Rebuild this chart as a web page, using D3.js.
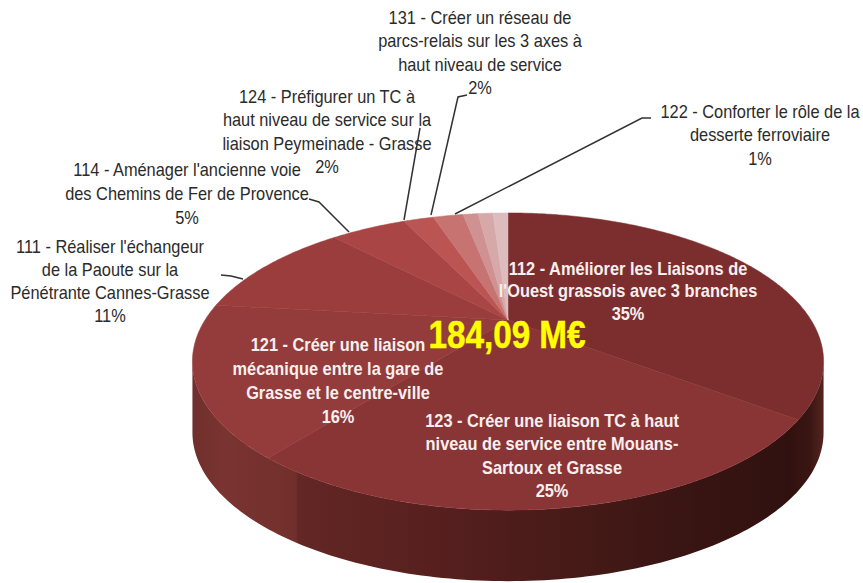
<!DOCTYPE html>
<html lang="fr">
<head>
<meta charset="utf-8">
<script src="https://cdn.jsdelivr.net/npm/d3@7"></script>
<style>
    html, body { margin: 0; padding: 0; background: #fff; }
    svg { display: block; }
    text { font-family: "Liberation Sans", sans-serif; text-anchor: middle; }
    .outer { fill: #2b2b2b; font-size: 18px; }
    .inner { fill: #f7eeee; font-size: 18px; font-weight: bold; }
    .total { fill: #ffff00; stroke: #ffff00; stroke-width: 0.5; font-size: 38px; font-weight: bold; }
    .leader { fill: none; stroke: #333; stroke-width: 1.5; }
</style>
</head>
<body>
<div id="chart"></div>
<script>
// Slice codes, clockwise from the top, the last two have no label in the picture
const codes = ['112', '123', '121', '111', '114', '124', '131', '122', 'a', 'b'];
const shares = [35, 25, 16, 11, 5, 2, 2, 1, 1, 1];
const sliceColors = ['#7b2e2e', '#8a3535', '#943a3a', '#9c3e3e', '#a94544', '#bb5452', '#c77372', '#cf9191', '#d6a8a8', '#dcbcbc'];

const totalLabel = '184,09 M€';

// Text blocks
const labelLines = [
    ['112 - Améliorer les Liaisons de', "l'Ouest grassois avec 3 branches", '35%'],
    ['123 - Créer une liaison TC à haut', 'niveau de service entre Mouans-', 'Sartoux et Grasse', '25%'],
    ['121 - Créer une liaison', 'mécanique entre la gare de', 'Grasse et le centre-ville', '16%'],
    ['111 - Réaliser l\'échangeur', 'de la Paoute sur la', 'Pénétrante Cannes-Grasse', '11%'],
    ['114 - Aménager l\'ancienne voie', 'des Chemins de Fer de Provence', '5%'],
    ['124 - Préfigurer un TC à', 'haut niveau de service sur la', 'liaison Peymeinade - Grasse', '2%'],
    ['131 - Créer un réseau de', 'parcs-relais sur les 3 axes à', 'haut niveau de service', '2%'],
    ['122 - Conforter le rôle de la', 'desserte ferroviaire', '1%']
];

// Where each block sits: centre x, first baseline, line step, white or not
const labelPlaces = [
    { x: 628, y: 275, step: 22.5, cls: 'inner' },
    { x: 552, y: 427, step: 23.5, cls: 'inner' },
    { x: 338, y: 351, step: 24, cls: 'inner' },
    { x: 110, y: 253, step: 23, cls: 'outer' },
    { x: 187, y: 176, step: 24, cls: 'outer' },
    { x: 327, y: 103, step: 23.5, cls: 'outer' },
    { x: 480, y: 24, step: 23.5, cls: 'outer' },
    { x: 760, y: 118, step: 23.5, cls: 'outer' }
];

// Leader lines from the text to the rim
const leaders = [
    [[221, 275], [231, 276], [243, 279]],
    [[309, 199], [319, 202], [349, 232]],
    [[420, 128], [404, 220]],
    [[467, 95], [458, 97], [431, 215]],
    [[651, 118], [642, 118], [455, 214]]
];

const width = 863;
const height = 583;

// Tilted disc: the middle of the pie is seen above the middle of the ellipse
const pieCenter = { x: 508, y: 320 };
const spreadX = 303;
const spreadY = 137;
const tilt = 0.2795;
const depth = 71;

function project(angle) {
    const u = Math.sin(angle);
    const v = -Math.cos(angle);
    const s = 1 / (1 - tilt * v);
    return [pieCenter.x + spreadX * u * s, pieCenter.y + spreadY * v * s];
}

const svg = d3.select('#chart').append('svg')
    .attr('width', width)
    .attr('height', height)
    .attr('viewBox', `0 0 ${width} ${height}`);

const defs = svg.append('defs');

defs.append('filter')
    .attr('id', 'soft')
    .append('feGaussianBlur')
    .attr('stdDeviation', 0.6);

// Side wall shading, left to right, with the two seams under the slice edges
const sideStops = [
    [190, '#6f2f2c'], [225, '#7a3431'], [296, '#712f2c'], [298, '#632725'],
    [450, '#551f1e'], [600, '#431916'], [700, '#371412'], [784, '#311210'],
    [786, '#2f100e'], [810, '#3a1613'], [826, '#5a2622']
];
const sideGradient = defs.append('linearGradient')
    .attr('id', 'side')
    .attr('gradientUnits', 'userSpaceOnUse')
    .attr('x1', 190).attr('x2', 826).attr('y1', 0).attr('y2', 0);
sideGradient.selectAll('stop')
    .data(sideStops)
    .enter()
    .append('stop')
    .attr('offset', d => (d[0] - 190) / (826 - 190))
    .attr('stop-color', d => d[1]);

// Side wall: the front of the rim, between its two widest points, pushed down by the depth
const rimAngles = d3.range(106, 255, 1).map(d => d * Math.PI / 180);
const rimTop = rimAngles.map(project);
const rimBottom = rimTop.map(p => [p[0], p[1] + depth]).reverse();
const outline = d3.line();

svg.append('path')
    .attr('d', outline(rimTop.concat(rimBottom)) + 'Z')
    .attr('fill', 'url(#side)');

// Top face
const color = d3.scaleOrdinal().domain(codes).range(sliceColors);
const pie = d3.pie().sort(null).value((d, i) => shares[i]);
const arcs = pie(codes);

function slicePath(d) {
    const steps = Math.max(2, Math.ceil((d.endAngle - d.startAngle) / 0.01));
    const points = d3.range(steps + 1).map(i =>
        project(d.startAngle + (d.endAngle - d.startAngle) * i / steps));
    return outline([[pieCenter.x, pieCenter.y], ...points]) + 'Z';
}

svg.append('g')
    .attr('filter', 'url(#soft)')
    .selectAll('path')
    .data(arcs)
    .enter()
    .append('path')
    .attr('d', slicePath)
    .attr('fill', d => color(d.data))
    .attr('stroke', d => color(d.data))
    .attr('stroke-width', 0.5);

// Leader lines
svg.append('g')
    .selectAll('path')
    .data(leaders)
    .enter()
    .append('path')
    .attr('class', 'leader')
    .attr('d', d => outline(d));

// Labels, squeezed sideways to get close to the condensed face of the original
labelLines.forEach((lines, i) => {
    const place = labelPlaces[i];
    const block = svg.append('g')
        .attr('transform', `translate(${place.x},${place.y}) scale(0.91,1)`)
        .append('text')
        .attr('class', place.cls);
    lines.forEach((line, j) => {
        block.append('tspan')
            .attr('x', 0)
            .attr('y', j * place.step)
            .text(line);
    });
});

svg.append('g')
    .attr('transform', 'translate(507,348) scale(0.875,1)')
    .append('text')
    .attr('class', 'total')
    .text(totalLabel);
</script>
</body>
</html>
